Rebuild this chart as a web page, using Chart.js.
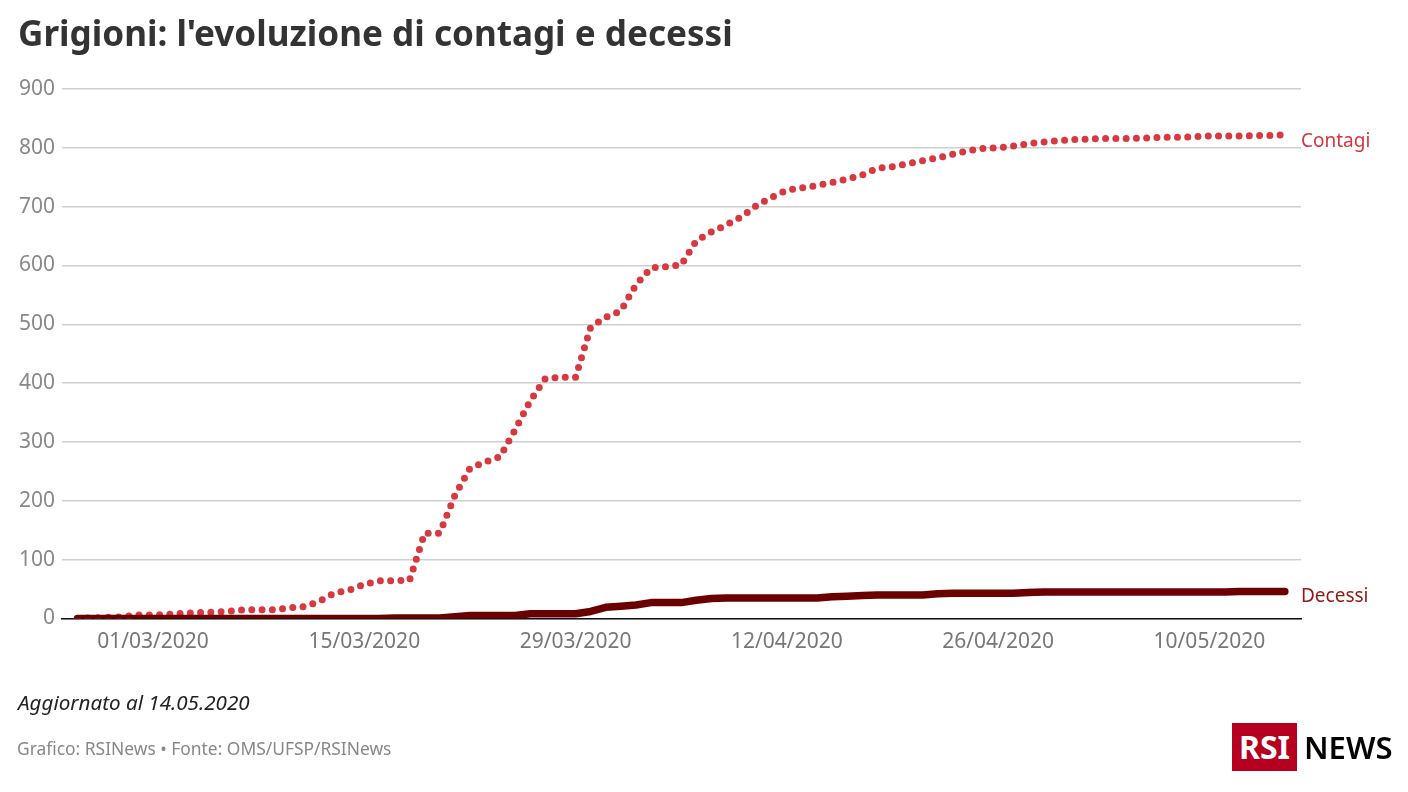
<!DOCTYPE html>
<html>
<head>
<meta charset="utf-8">
<title>Grigioni</title>
<script src="https://cdn.jsdelivr.net/npm/chart.js@4/dist/chart.umd.min.js"></script>
<style>
  html, body { margin: 0; padding: 0; background: #fff; width: 1408px; height: 792px; overflow: hidden; font-family: "Noto Sans", sans-serif; }
  #chart { position: absolute; left: 0; top: 0; }
  .txt { position: absolute; white-space: nowrap; line-height: 1; }
  #title { left: 18px; top: 15px; font-size: 35.1px; font-weight: 700; color: #333; }
  #updated { left: 18px; top: 692px; font-size: 20.6px; font-style: italic; color: #222; }
  #source { left: 17px; top: 740px; font-size: 17.4px; color: #888; }
  #logo { position: absolute; left: 1232px; top: 723px; width: 65px; height: 48px; background: #b5001f; color: #fff; font-size: 32px; font-weight: 700; line-height: 48px; text-align: center; }
  #news { left: 1304px; top: 732px; font-size: 31px; font-weight: 600; color: #000; }
</style>
</head>
<body>
<canvas id="chart" width="1408" height="792"></canvas>
<div class="txt" id="title">Grigioni: l'evoluzione di contagi e decessi</div>
<div class="txt" id="updated">Aggiornato al 14.05.2020</div>
<div class="txt" id="source">Grafico: RSINews • Fonte: OMS/UFSP/RSINews</div>
<div id="logo">RSI</div>
<div class="txt" id="news">NEWS</div>
<script>
const dates = [
  '25/02/2020','26/02/2020','27/02/2020','28/02/2020','29/02/2020',
  '01/03/2020','02/03/2020','03/03/2020','04/03/2020','05/03/2020','06/03/2020','07/03/2020','08/03/2020','09/03/2020','10/03/2020',
  '11/03/2020','12/03/2020','13/03/2020','14/03/2020','15/03/2020','16/03/2020','17/03/2020','18/03/2020','19/03/2020','20/03/2020',
  '21/03/2020','22/03/2020','23/03/2020','24/03/2020','25/03/2020','26/03/2020','27/03/2020','28/03/2020','29/03/2020','30/03/2020','31/03/2020',
  '01/04/2020','02/04/2020','03/04/2020','04/04/2020','05/04/2020','06/04/2020','07/04/2020','08/04/2020','09/04/2020','10/04/2020',
  '11/04/2020','12/04/2020','13/04/2020','14/04/2020','15/04/2020','16/04/2020','17/04/2020','18/04/2020','19/04/2020','20/04/2020',
  '21/04/2020','22/04/2020','23/04/2020','24/04/2020','25/04/2020','26/04/2020','27/04/2020','28/04/2020','29/04/2020','30/04/2020',
  '01/05/2020','02/05/2020','03/05/2020','04/05/2020','05/05/2020','06/05/2020','07/05/2020','08/05/2020','09/05/2020','10/05/2020',
  '11/05/2020','12/05/2020','13/05/2020','14/05/2020','15/05/2020'
];
const contagi = [
  0, 1, 2, 3, 6, 6, 7, 9, 10, 11,
  12, 15, 15, 15, 18, 20, 29, 43, 48, 58,
  64, 64, 65, 145, 145, 209, 255, 266, 275, 321,
  370, 408, 410, 410, 495, 512, 523, 567, 596, 598,
  601, 642, 657, 669, 683, 702, 716, 728, 732, 736,
  741, 747, 754, 765, 768, 773, 778, 783, 789, 795,
  799, 800, 803, 807, 810, 812, 814, 815, 816, 816,
  816, 817, 818, 818, 819, 820, 820, 820, 821, 821,
  822
];
const decessi = [
  0, 0, 0, 0, 0, 0, 0, 0, 0, 0,
  0, 0, 0, 0, 0, 0, 0, 0, 0, 0,
  0, 1, 1, 1, 1, 3, 5, 5, 5, 5,
  8, 8, 8, 8, 12, 19, 21, 23, 27, 27,
  27, 31, 34, 35, 35, 35, 35, 35, 35, 35,
  37, 38, 39, 40, 40, 40, 40, 42, 43, 43,
  43, 43, 43, 44, 45, 45, 45, 45, 45, 45,
  45, 45, 45, 45, 45, 45, 45, 46, 46, 46,
  46
];
const xTicks = ['01/03/2020','15/03/2020','29/03/2020','12/04/2020','26/04/2020','10/05/2020'];
const yTicks = [0, 100, 200, 300, 400, 500, 600, 700, 800, 900];

const toPoints = values => values.map((v, i) => ({ x: i, y: v }));

// names at the right of the plot, next to the end of each line
const endLabels = {
  id: 'endLabels',
  afterDraw(chart) {
    const ctx = chart.ctx, y = chart.scales.y, right = chart.chartArea.right;
    ctx.save();
    ctx.font = '19px "Noto Sans"';
    ctx.textBaseline = 'middle';
    ctx.fillStyle = '#d8343c';
    ctx.fillText('Contagi', right, y.getPixelForValue(811));
    ctx.fillStyle = '#8e1a12';
    ctx.fillText('Decessi', right, y.getPixelForValue(37));
    ctx.restore();
  }
};

new Chart(document.getElementById('chart'), {
  type: 'line',
  data: {
    datasets: [
      {
        label: 'Decessi',
        data: toPoints(decessi),
        borderColor: '#6b0000',
        borderWidth: 7.5,
        borderCapStyle: 'round',
        borderJoinStyle: 'round',
        pointRadius: 0,
        order: 1
      },
      {
        label: 'Contagi',
        data: toPoints(contagi),
        borderColor: '#d8383f',
        borderWidth: 7,
        borderDash: [0, 10.27],
        borderCapStyle: 'round',
        borderJoinStyle: 'round',
        pointRadius: 0,
        order: 2
      }
    ]
  },
  options: {
    responsive: false,
    animation: false,
    devicePixelRatio: 1,
    layout: { padding: { left: 0, right: 107, top: 89, bottom: 143.5 } },
    plugins: { legend: { display: false }, tooltip: { enabled: false } },
    scales: {
      x: {
        type: 'linear',
        min: -1.03,
        max: 81.07,
        afterFit: s => { s.height = 30; },
        afterBuildTicks: s => { s.ticks = xTicks.map(d => ({ value: dates.indexOf(d) })); },
        grid: { display: false },
        border: { display: true, color: '#111', width: 1.5 },
        ticks: {
          autoSkip: false,
          maxRotation: 0,
          padding: 3,
          color: '#777',
          font: { family: '"Noto Sans"', size: 21 },
          callback: v => dates[v]
        }
      },
      y: {
        min: 0,
        max: 900,
        afterFit: s => { s.width = 62; },
        afterBuildTicks: s => { s.ticks = yTicks.map(v => ({ value: v })); },
        grid: { color: '#cfcfcf', lineWidth: 1.5, drawTicks: false },
        border: { display: false },
        ticks: {
          padding: 7,
          color: '#888',
          font: { family: '"Noto Sans"', size: 21 }
        }
      }
    }
  },
  plugins: [endLabels]
});
</script>
</body>
</html>
